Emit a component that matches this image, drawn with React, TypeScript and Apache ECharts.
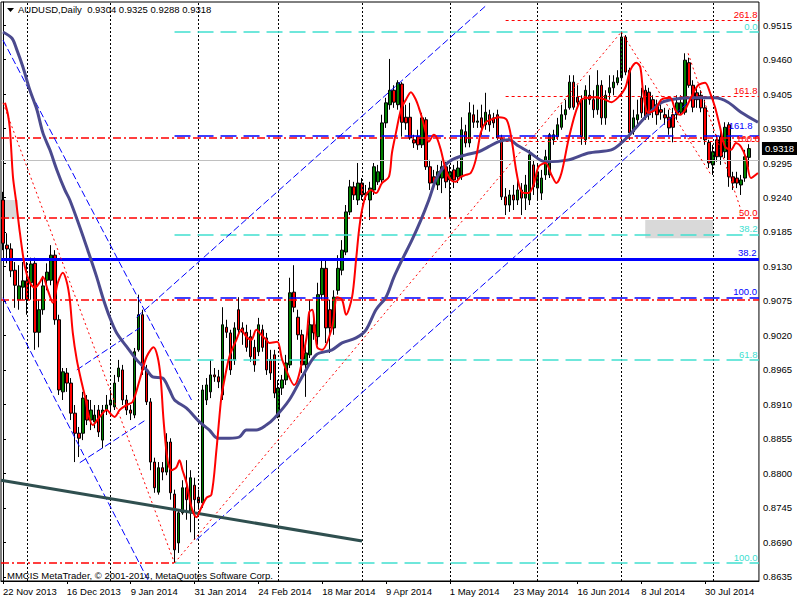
import React, { useEffect, useRef } from 'react';
import * as echarts from 'echarts';

const FONT = "Tahoma, 'Liberation Sans', Arial, sans-serif";
const FS = 9.5;

const SYMBOL_TITLE = 'AUDUSD,Daily';
const COPYRIGHT = 'MMCIS MetaTrader, © 2001-2014, MetaQuotes Software Corp.';
const START_DATE = '2013-11-22';
const SKIPPED_DAYS = ['2013-12-25', '2014-01-01'];
const SLOT_COUNT = 190;
const LABEL_EVERY = 16;
const MONTH_NAMES = ['Jan', 'Feb', 'Mar', 'Apr', 'May', 'Jun', 'Jul', 'Aug', 'Sep', 'Oct', 'Nov', 'Dec'];

const priceTicks = [
  '0.8635', '0.8690', '0.8745', '0.8800', '0.8855', '0.8910', '0.8965', '0.9020', '0.9075',
  '0.9130', '0.9185', '0.9240', '0.9295', '0.9350', '0.9405', '0.9460', '0.9515',
];
const PRICE_MIN = 0.86283;
const PRICE_MAX = 0.95518;

// [open, close, low, high]
const candles = [
  [0.9236, 0.9167, 0.9156, 0.9249], [0.9164, 0.9158, 0.9135, 0.9183], [0.9158, 0.9123, 0.9113, 0.9167],
  [0.9124, 0.9100, 0.9064, 0.9137], [0.9077, 0.9099, 0.9061, 0.9132], [0.9097, 0.9107, 0.9077, 0.9137],
  [0.9107, 0.9077, 0.9053, 0.9137], [0.9104, 0.9134, 0.9077, 0.9144], [0.9135, 0.9025, 0.8997, 0.9144],
  [0.9025, 0.9061, 0.9001, 0.9077], [0.9061, 0.9099, 0.9053, 0.9115], [0.9108, 0.9121, 0.9092, 0.9135],
  [0.9108, 0.9148, 0.9100, 0.9164], [0.9148, 0.9045, 0.9037, 0.9156], [0.9045, 0.8933, 0.8925, 0.9053],
  [0.8930, 0.8962, 0.8917, 0.8968], [0.8960, 0.8944, 0.8930, 0.8968], [0.8944, 0.8896, 0.8885, 0.8952],
  [0.8896, 0.8864, 0.8818, 0.8909], [0.8864, 0.8856, 0.8826, 0.8874], [0.8864, 0.8920, 0.8853, 0.8930],
  [0.8917, 0.8885, 0.8877, 0.8925], [0.8885, 0.8901, 0.8869, 0.8917], [0.8882, 0.8893, 0.8872, 0.8909],
  [0.8901, 0.8866, 0.8858, 0.8909], [0.8853, 0.8901, 0.8840, 0.8909], [0.8901, 0.8909, 0.8893, 0.8925],
  [0.8909, 0.8917, 0.8898, 0.8933], [0.8906, 0.8944, 0.8901, 0.8957], [0.8954, 0.8968, 0.8946, 0.8981],
  [0.8965, 0.8917, 0.8909, 0.8973], [0.8917, 0.8901, 0.8893, 0.8925], [0.8901, 0.8896, 0.8885, 0.8909],
  [0.8893, 0.8994, 0.8888, 0.9000], [0.8997, 0.9053, 0.8994, 0.9085], [0.9053, 0.8965, 0.8957, 0.9061],
  [0.8965, 0.8914, 0.8909, 0.8973], [0.8914, 0.8818, 0.8805, 0.8920], [0.8818, 0.8777, 0.8769, 0.8825],
  [0.8770, 0.8809, 0.8766, 0.8818], [0.8809, 0.8802, 0.8789, 0.8818], [0.8802, 0.8850, 0.8797, 0.8864],
  [0.8850, 0.8769, 0.8758, 0.8856], [0.8767, 0.8678, 0.8657, 0.8774], [0.8689, 0.8737, 0.8673, 0.8742],
  [0.8737, 0.8777, 0.8734, 0.8789], [0.8777, 0.8758, 0.8726, 0.8821], [0.8737, 0.8793, 0.8706, 0.8805],
  [0.8781, 0.8758, 0.8694, 0.8793], [0.8762, 0.8753, 0.8742, 0.8774], [0.8753, 0.8933, 0.8745, 0.8941],
  [0.8917, 0.8941, 0.8909, 0.8952], [0.8930, 0.8957, 0.8920, 0.8981], [0.8957, 0.8954, 0.8946, 0.8968],
  [0.8954, 0.8946, 0.8936, 0.8965], [0.8925, 0.9037, 0.8917, 0.9065], [0.9033, 0.9025, 0.9016, 0.9045],
  [0.9024, 0.8965, 0.8957, 0.9029], [0.8981, 0.9032, 0.8973, 0.9041], [0.9061, 0.9029, 0.9021, 0.9081],
  [0.9032, 0.9025, 0.9005, 0.9041], [0.9025, 0.9001, 0.8994, 0.9037], [0.9018, 0.8986, 0.8978, 0.9029],
  [0.9001, 0.8973, 0.8962, 0.9013], [0.8994, 0.9037, 0.8987, 0.9048], [0.9029, 0.9001, 0.8994, 0.9037],
  [0.9016, 0.8965, 0.8957, 0.9024], [0.8981, 0.8960, 0.8949, 0.8997], [0.8989, 0.8928, 0.8920, 0.8997],
  [0.8890, 0.8936, 0.8888, 0.8949], [0.8936, 0.8949, 0.8925, 0.8957], [0.8949, 0.8976, 0.8941, 0.8989],
  [0.8973, 0.9088, 0.8968, 0.9112], [0.9089, 0.9065, 0.9057, 0.9132], [0.9049, 0.9021, 0.9013, 0.9061],
  [0.9021, 0.8973, 0.8960, 0.9029], [0.8973, 0.8992, 0.8922, 0.9005], [0.8989, 0.9037, 0.8984, 0.9077],
  [0.9037, 0.9024, 0.9013, 0.9048], [0.9018, 0.9085, 0.9005, 0.9104], [0.9085, 0.9127, 0.9077, 0.9140],
  [0.9127, 0.9032, 0.9008, 0.9140], [0.9061, 0.9032, 0.8992, 0.9077], [0.9032, 0.9081, 0.9021, 0.9092],
  [0.9092, 0.9127, 0.9085, 0.9148], [0.9124, 0.9156, 0.9116, 0.9172], [0.9153, 0.9217, 0.9148, 0.9228],
  [0.9217, 0.9257, 0.9212, 0.9268], [0.9257, 0.9244, 0.9236, 0.9265], [0.9236, 0.9263, 0.9228, 0.9295],
  [0.9263, 0.9244, 0.9236, 0.9271], [0.9244, 0.9247, 0.9236, 0.9260], [0.9236, 0.9255, 0.9204, 0.9265],
  [0.9252, 0.9289, 0.9244, 0.9295], [0.9265, 0.9281, 0.9260, 0.9292], [0.9268, 0.9359, 0.9260, 0.9372],
  [0.9359, 0.9391, 0.9351, 0.9399], [0.9388, 0.9411, 0.9380, 0.9461], [0.9411, 0.9392, 0.9383, 0.9419],
  [0.9388, 0.9423, 0.9380, 0.9427], [0.9421, 0.9360, 0.9337, 0.9424], [0.9368, 0.9359, 0.9348, 0.9388],
  [0.9368, 0.9335, 0.9332, 0.9391], [0.9332, 0.9327, 0.9319, 0.9340], [0.9337, 0.9324, 0.9316, 0.9348],
  [0.9324, 0.9367, 0.9319, 0.9375], [0.9364, 0.9289, 0.9284, 0.9368], [0.9289, 0.9263, 0.9252, 0.9300],
  [0.9273, 0.9263, 0.9255, 0.9284], [0.9260, 0.9281, 0.9252, 0.9292], [0.9271, 0.9289, 0.9247, 0.9300],
  [0.9289, 0.9265, 0.9255, 0.9297], [0.9268, 0.9281, 0.9207, 0.9292], [0.9284, 0.9268, 0.9255, 0.9292],
  [0.9273, 0.9287, 0.9263, 0.9300], [0.9273, 0.9348, 0.9268, 0.9368], [0.9345, 0.9327, 0.9320, 0.9356],
  [0.9327, 0.9375, 0.9320, 0.9392], [0.9372, 0.9360, 0.9351, 0.9388], [0.9360, 0.9362, 0.9351, 0.9380],
  [0.9367, 0.9352, 0.9340, 0.9388], [0.9356, 0.9376, 0.9348, 0.9407], [0.9372, 0.9356, 0.9345, 0.9380],
  [0.9367, 0.9359, 0.9351, 0.9375], [0.9372, 0.9335, 0.9332, 0.9380], [0.9335, 0.9241, 0.9236, 0.9340],
  [0.9241, 0.9228, 0.9212, 0.9255], [0.9228, 0.9244, 0.9217, 0.9252], [0.9244, 0.9236, 0.9220, 0.9260],
  [0.9236, 0.9252, 0.9228, 0.9271], [0.9252, 0.9239, 0.9212, 0.9263], [0.9239, 0.9260, 0.9220, 0.9276],
  [0.9236, 0.9308, 0.9228, 0.9316], [0.9292, 0.9257, 0.9244, 0.9300], [0.9255, 0.9281, 0.9236, 0.9292],
  [0.9247, 0.9271, 0.9236, 0.9284], [0.9276, 0.9305, 0.9268, 0.9316], [0.9276, 0.9340, 0.9271, 0.9343],
  [0.9332, 0.9340, 0.9324, 0.9348], [0.9337, 0.9356, 0.9332, 0.9367], [0.9352, 0.9372, 0.9348, 0.9388],
  [0.9372, 0.9380, 0.9364, 0.9396], [0.9383, 0.9424, 0.9380, 0.9435], [0.9424, 0.9384, 0.9380, 0.9435],
  [0.9400, 0.9392, 0.9384, 0.9419], [0.9396, 0.9337, 0.9324, 0.9403], [0.9332, 0.9411, 0.9324, 0.9419],
  [0.9403, 0.9396, 0.9388, 0.9435], [0.9396, 0.9380, 0.9367, 0.9411], [0.9380, 0.9419, 0.9372, 0.9443],
  [0.9419, 0.9367, 0.9356, 0.9427], [0.9367, 0.9403, 0.9356, 0.9411], [0.9407, 0.9415, 0.9396, 0.9435],
  [0.9415, 0.9424, 0.9403, 0.9435], [0.9423, 0.9431, 0.9419, 0.9443], [0.9431, 0.9496, 0.9427, 0.9504],
  [0.9496, 0.9440, 0.9435, 0.9499], [0.9443, 0.9343, 0.9332, 0.9447], [0.9345, 0.9367, 0.9340, 0.9380],
  [0.9364, 0.9372, 0.9356, 0.9396], [0.9399, 0.9375, 0.9367, 0.9415], [0.9411, 0.9368, 0.9364, 0.9419],
  [0.9408, 0.9372, 0.9364, 0.9415], [0.9396, 0.9380, 0.9367, 0.9403], [0.9388, 0.9372, 0.9356, 0.9396],
  [0.9380, 0.9376, 0.9364, 0.9396], [0.9372, 0.9367, 0.9356, 0.9383], [0.9368, 0.9351, 0.9340, 0.9380],
  [0.9372, 0.9352, 0.9328, 0.9383], [0.9372, 0.9391, 0.9364, 0.9403], [0.9376, 0.9391, 0.9372, 0.9403],
  [0.9376, 0.9459, 0.9372, 0.9470], [0.9455, 0.9419, 0.9415, 0.9463], [0.9419, 0.9384, 0.9376, 0.9427],
  [0.9407, 0.9396, 0.9383, 0.9415], [0.9403, 0.9383, 0.9376, 0.9411], [0.9383, 0.9332, 0.9324, 0.9396],
  [0.9328, 0.9295, 0.9287, 0.9332], [0.9292, 0.9313, 0.9276, 0.9324], [0.9332, 0.9305, 0.9297, 0.9340],
  [0.9337, 0.9305, 0.9292, 0.9348], [0.9313, 0.9352, 0.9303, 0.9360], [0.9356, 0.9273, 0.9257, 0.9360],
  [0.9273, 0.9263, 0.9252, 0.9281], [0.9271, 0.9263, 0.9255, 0.9281], [0.9260, 0.9268, 0.9244, 0.9276],
  [0.9271, 0.9305, 0.9265, 0.9316], [0.9304, 0.9318, 0.9288, 0.9325],
];

// [bar index, price] read along the fast (red) moving average
const redMA = [
  [0.5, 0.9391], [1.25, 0.9372], [1.75, 0.9348], [2.5, 0.9273], [3.25, 0.9236], [4.25, 0.9183], [5.5, 0.9129],
  [6.75, 0.9104], [8, 0.9096], [9.25, 0.9105], [10, 0.9113], [11.25, 0.9092], [12.5, 0.9072], [13.75, 0.9104],
  [15, 0.9120], [16, 0.9105], [16.75, 0.9077], [17.5, 0.9024], [18.5, 0.8981], [19.75, 0.8944], [20.75, 0.8917],
  [21.25, 0.8898], [22.5, 0.8877], [24.25, 0.8890], [26, 0.8901], [27.25, 0.8893], [28, 0.8890], [29.25, 0.8901],
  [31, 0.8909], [32.5, 0.8914], [34.25, 0.8949], [36, 0.8986], [37.75, 0.9001], [38.75, 0.8986], [39.5, 0.8954],
  [40.25, 0.8885], [41.25, 0.8821], [42.25, 0.8805], [43.5, 0.8810], [44.25, 0.8821], [45, 0.8805], [46, 0.8785],
  [47.25, 0.8746], [48.5, 0.8730], [49.75, 0.8746], [51, 0.8761], [52.25, 0.8766], [53.5, 0.8837], [54.25, 0.8890],
  [54.75, 0.8922], [55.5, 0.8949], [56.75, 0.8986], [58.5, 0.9013], [59.75, 0.9029], [61, 0.9018], [62.25, 0.9013],
  [63.5, 0.9029], [64.75, 0.9021], [66, 0.9013], [66.75, 0.9008], [68.75, 0.9010], [70, 0.8981], [73, 0.8941],
  [76, 0.9013], [76.75, 0.9057], [77.5, 0.9061], [78.75, 0.9001], [80, 0.8997], [82.5, 0.9033], [83.75, 0.9081],
  [85, 0.9077], [86, 0.9053], [87.5, 0.9081], [88.5, 0.9140], [89.25, 0.9188], [90, 0.9220], [91, 0.9244],
  [92.25, 0.9252], [93.5, 0.9247], [95, 0.9263], [96.75, 0.9273], [97.5, 0.9311], [98.5, 0.9343], [99.75, 0.9380],
  [101, 0.9396], [102.25, 0.9408], [103.5, 0.9396], [104.25, 0.9383], [105, 0.9368], [106, 0.9343], [106.75, 0.9329],
  [108, 0.9340], [108.75, 0.9335], [109.75, 0.9316], [111, 0.9284], [112.25, 0.9268], [113.5, 0.9265],
  [114.75, 0.9273], [116, 0.9276], [117.25, 0.9279], [118.5, 0.9300], [119.75, 0.9343], [121, 0.9360],
  [122.25, 0.9364], [124.25, 0.9368], [126.25, 0.9364], [127.5, 0.9332], [128.75, 0.9279], [130, 0.9249],
  [131.75, 0.9247], [133, 0.9260], [134.25, 0.9289], [136, 0.9295], [137.5, 0.9276], [138.75, 0.9263],
  [140, 0.9279], [141.75, 0.9332], [143.5, 0.9375], [145, 0.9396], [146.75, 0.9399], [148.5, 0.9400],
  [151, 0.9396], [152.5, 0.9392], [154.25, 0.9400], [156, 0.9415], [157.25, 0.9443], [158.75, 0.9455],
  [159.75, 0.9448], [160.5, 0.9407], [161.75, 0.9375], [163.5, 0.9380], [165, 0.9396], [167.25, 0.9399],
  [168.5, 0.9380], [169.75, 0.9372], [171, 0.9380], [172.5, 0.9400], [174.25, 0.9419], [176, 0.9423],
  [177.25, 0.9407], [178.5, 0.9384], [179.75, 0.9352], [181, 0.9321], [182.5, 0.9316], [183.75, 0.9327],
  [185, 0.9321], [186.25, 0.9303], [187.5, 0.9271], [189.25, 0.9279],
];

// [bar index, price] read along the slow (purple) moving average
const purpleMA = [
  [0, 0.9504], [2.25, 0.9494], [3.5, 0.9475], [5, 0.9448], [6.75, 0.9411], [8.5, 0.9380], [10, 0.9343],
  [11.75, 0.9316], [13.5, 0.9284], [15.5, 0.9252], [16.75, 0.9236], [19.25, 0.9193], [21.25, 0.9156],
  [23.5, 0.9113], [25, 0.9081], [26.75, 0.9049], [28.5, 0.9024], [31, 0.9002], [33.5, 0.8981], [36, 0.8965],
  [37.5, 0.8954], [40, 0.8952], [41.75, 0.8933], [43, 0.8917], [46, 0.8904], [49.25, 0.8882], [51.75, 0.8869],
  [53.75, 0.8856], [56.75, 0.8856], [59.25, 0.8858], [61, 0.8869], [63.5, 0.8869], [66, 0.8877], [68, 0.8888],
  [71.75, 0.8917], [75, 0.8954], [78.5, 0.8989], [82.5, 0.8997], [85, 0.9008], [88.5, 0.9016], [91, 0.9029],
  [93.5, 0.9061], [96, 0.9081], [98, 0.9113], [100, 0.9140], [102.5, 0.9172], [104.75, 0.9204], [106.75, 0.9236],
  [108.5, 0.9268], [110.5, 0.9289], [112.5, 0.9300], [116, 0.9308], [119.25, 0.9313], [121.75, 0.9321],
  [124.25, 0.9329], [126.75, 0.9332], [129.25, 0.9322], [131.75, 0.9313], [136, 0.9297], [141.75, 0.9300],
  [146.75, 0.9311], [152.5, 0.9316], [155, 0.9327], [157.5, 0.9343], [161, 0.9368], [165, 0.9391],
  [168.5, 0.9397], [173.5, 0.9399], [178.5, 0.9399], [181.75, 0.9392], [185, 0.9376], [189.25, 0.9360],
];

// Fibonacci levels
const cyanFib = [
  { label: '0.0', price: 0.9504 }, { label: '38.2', price: 0.9181 },
  { label: '61.8', price: 0.8981 }, { label: '100.0', price: 0.8657 },
];
const cyanFibFrom = 43;
const blueFibSolid = [{ label: '38.2', price: 0.9142 }];
const blueFibDashed = [{ label: '161.8', price: 0.9338 }, { label: '100.0', price: 0.9080 }];
const blueFibFrom = 43;
const redFibDashDot = [{ label: '', price: 0.9335 }, { label: '50.0', price: 0.9207 }, { label: '', price: 0.9077 }];
const redLowLevel = [{ label: '', price: 0.8657 }];
const redLowTo = 43;
const redExpansion = [{ label: '261.8', price: 0.9523 }, { label: '161.8', price: 0.9402 }, { label: '100.0', price: 0.9329 }];
const redExpansionFrom = 126;

// trendlines as [bar index, price] end points
const blueTrendlines = [
  [[0, 0.9491], [47.25, 0.8917]],
  [[0, 0.9080], [36.5, 0.8628]],
  [[18.5, 0.8965], [34.25, 0.9032]],
  [[19.25, 0.8817], [35.5, 0.8884]],
  [[33.5, 0.9049], [121.25, 0.9547]],
  [[48.5, 0.8694], [172.5, 0.9396]],
];
const redDottedTrendlines = [
  [[0, 0.9391], [43, 0.8657]],
  [[43, 0.8657], [155, 0.9504]],
  [[155, 0.9504], [177.5, 0.9276]],
  [[171.75, 0.9470], [185, 0.9220]],
];
const slateTrendline = [[-0.5, 0.8789], [90, 0.8692]];
const grayBoxes = [
  [[-0.5, 0.9236], [3.75, 0.9206]],
  [[161, 0.9204], [178, 0.9175]],
];

function buildDates(): string[] {
  const out: string[] = [];
  const d = new Date(START_DATE + 'T00:00:00Z');
  while (out.length < SLOT_COUNT) {
    const wd = d.getUTCDay();
    const iso = d.toISOString().slice(0, 10);
    if (wd !== 0 && wd !== 6 && SKIPPED_DAYS.indexOf(iso) < 0) out.push(iso);
    d.setUTCDate(d.getUTCDate() + 1);
  }
  return out;
}

function fmtDate(iso: string): string {
  const [y, m, dd] = iso.split('-');
  return `${parseInt(dd, 10)} ${MONTH_NAMES[parseInt(m, 10) - 1]} ${y}`;
}

export default function App() {
  const ref = useRef<HTMLDivElement>(null);

  useEffect(() => {
    if (!ref.current) return;
    const chart = echarts.init(ref.current, null, { renderer: 'svg' });

    const isoDates = buildDates();
    const dateLabels = isoDates.map(fmtDate);
    const monthStarts: number[] = [];
    for (let i = 1; i < isoDates.length; i++) {
      if (isoDates[i].slice(0, 7) !== isoDates[i - 1].slice(0, 7)) monthStarts.push(i);
    }
    const AX0 = -0.5;
    const AX1 = SLOT_COUNT - 0.5;
    const tickVals = priceTicks.map(Number);
    const last = candles[candles.length - 1];
    const header = `${SYMBOL_TITLE}  ${last[0].toFixed(4)} ${last[3].toFixed(4)} ${last[2].toFixed(4)} ${last[1].toFixed(4)}`;
    const labelInterval = (idx: number) => idx % LABEL_EVERY === 0;

    const levelSeries = (
      levels: { label: string; price: number }[],
      from: number,
      to: number,
      color: string,
      type: any,
      width: number,
      labelDistance: (i: number) => number = () => 1.5
    ) => ({
      type: 'line',
      xAxisIndex: 1,
      yAxisIndex: 0,
      data: [],
      z: 4,
      silent: true,
      markLine: {
        silent: true,
        animation: false,
        symbol: ['none', 'none'],
        lineStyle: { color, type, width },
        label: {
          show: true,
          position: 'insideEndTop',
          formatter: (p: any) => p.name,
          color,
          fontSize: FS,
          lineHeight: 8,
          fontFamily: FONT,
          distance: 1.5,
        },
        emphasis: { disabled: true },
        data: levels.map((l, i) => [
          { coord: [from, l.price], name: l.label, label: { distance: labelDistance(i) } },
          { coord: [to, l.price] },
        ]),
      },
    });

    const trendSeries = (pts: number[][], color: string, type: any, width: number) => ({
      type: 'line',
      xAxisIndex: 1,
      yAxisIndex: 0,
      data: pts,
      symbol: 'none',
      silent: true,
      z: 5,
      lineStyle: { color, type, width },
    });

    const option: any = {
      animation: false,
      backgroundColor: '#ffffff',
      textStyle: { fontFamily: FONT },
      grid: {
        left: 1,
        top: 2,
        width: 760,
        height: 579,
        show: true,
        borderColor: '#000',
        borderWidth: 1,
        backgroundColor: '#ffffff',
      },
      xAxis: [
        {
          type: 'category',
          data: dateLabels,
          boundaryGap: true,
          axisLine: { show: true, lineStyle: { color: '#000', width: 1 } },
          axisTick: { show: true, interval: labelInterval, alignWithLabel: true, length: 3, lineStyle: { color: '#000' } },
          axisLabel: {
            interval: labelInterval,
            align: 'left',
            margin: 5,
            color: '#000',
            fontSize: FS,
            fontFamily: FONT,
          },
          splitLine: { show: false },
        },
        {
          type: 'value',
          min: AX0,
          max: AX1,
          show: false,
          splitLine: { show: false },
        },
      ],
      yAxis: [
        {
          type: 'value',
          position: 'right',
          min: PRICE_MIN,
          max: PRICE_MAX,
          axisLine: { show: true, lineStyle: { color: '#000', width: 1 } },
          axisTick: { show: true, length: 3, customValues: tickVals, lineStyle: { color: '#000' } },
          axisLabel: {
            customValues: tickVals,
            formatter: (v: number) => v.toFixed(4),
            margin: 4,
            color: '#000',
            fontSize: FS,
            fontFamily: FONT,
          },
          splitLine: { show: false },
        },
        {
          type: 'value',
          position: 'right',
          min: PRICE_MIN,
          max: PRICE_MAX,
          axisLine: { show: false },
          axisTick: { show: false },
          splitLine: { show: false },
          axisLabel: {
            customValues: [last[1]],
            formatter: (v: number) => v.toFixed(4),
            margin: 3,
            color: '#fff',
            backgroundColor: '#000',
            padding: [2, 3, 1, 3],
            fontSize: FS,
            fontFamily: FONT,
          },
          z: 20,
        },
      ],
      graphic: [
        { type: 'polygon', shape: { points: [[7, 8], [14, 8], [10.5, 12]] }, style: { fill: '#000' }, z: 100 },
        {
          type: 'text',
          left: 18,
          top: 4,
          z: 100,
          style: { text: header, fill: '#000', font: `${FS}px ${FONT}` },
        },
        {
          type: 'text',
          left: 7,
          top: 570,
          z: 100,
          style: { text: COPYRIGHT, fill: '#000', font: `${FS}px ${FONT}` },
        },
      ],
      series: [
        {
          type: 'line',
          xAxisIndex: 1,
          yAxisIndex: 0,
          data: [],
          z: 1,
          silent: true,
          markLine: {
            silent: true,
            animation: false,
            symbol: ['none', 'none'],
            label: { show: false },
            lineStyle: { color: '#000', type: [2, 2], width: 1 },
            emphasis: { disabled: true },
            data: monthStarts.map((i) => ({ xAxis: i })),
          },
          markArea: {
            silent: true,
            itemStyle: { color: '#d9d9d9' },
            data: grayBoxes.map((b) => [{ coord: b[0] }, { coord: b[1] }]),
          },
        },
        {
          type: 'candlestick',
          data: candles,
          barWidth: 3,
          z: 3,
          itemStyle: {
            color: '#008000',
            color0: '#ff0000',
            borderColor: '#000',
            borderColor0: '#000',
            borderWidth: 1,
          },
          markLine: {
            silent: true,
            animation: false,
            symbol: ['none', 'none'],
            lineStyle: { color: '#c0c0c0', type: 'solid', width: 1 },
            label: { show: false },
            emphasis: { disabled: true },
            data: [{ yAxis: last[1] }],
          },
        },
        levelSeries(cyanFib, cyanFibFrom, AX1, '#40e0d0', [16, 7], 1.5),
        levelSeries(blueFibSolid, AX0, AX1, '#0000ff', 'solid', 3, () => 2.5),
        levelSeries(blueFibDashed, blueFibFrom, AX1, '#0000ff', [16, 7], 1.5, (i) => (i === 0 ? 6.5 : 2)),
        levelSeries(redFibDashDot, AX0, AX1, '#ff0000', [8, 3, 2, 3], 1.5),
        levelSeries(redLowLevel, AX0, redLowTo, '#ff0000', [8, 3, 2, 3], 1.5),
        levelSeries(redExpansion, redExpansionFrom, AX1, '#ff0000', [3, 3], 1.2, (i) => (i === 2 ? -1 : 1.5)),
        ...blueTrendlines.map((l) => trendSeries(l, '#0000ff', [7, 3], 1)),
        ...redDottedTrendlines.map((l) => trendSeries(l, '#ff0000', [2, 3], 1)),
        trendSeries(slateTrendline, '#2f4f4f', 'solid', 3),
        {
          type: 'line',
          xAxisIndex: 1,
          yAxisIndex: 0,
          data: purpleMA,
          symbol: 'none',
          smooth: 0.3,
          silent: true,
          z: 6,
          lineStyle: { color: '#4b4a8e', width: 3 },
        },
        {
          type: 'line',
          xAxisIndex: 1,
          yAxisIndex: 0,
          data: redMA,
          symbol: 'none',
          smooth: 0.3,
          silent: true,
          z: 7,
          lineStyle: { color: '#ff0000', width: 2 },
        },
      ],
    };

    chart.setOption(option);
    return () => chart.dispose();
  }, []);

  return (
    <div
      ref={ref}
      style={{ position: 'fixed', left: 0, top: 0, width: 800, height: 600, background: '#fff' }}
    />
  );
}
